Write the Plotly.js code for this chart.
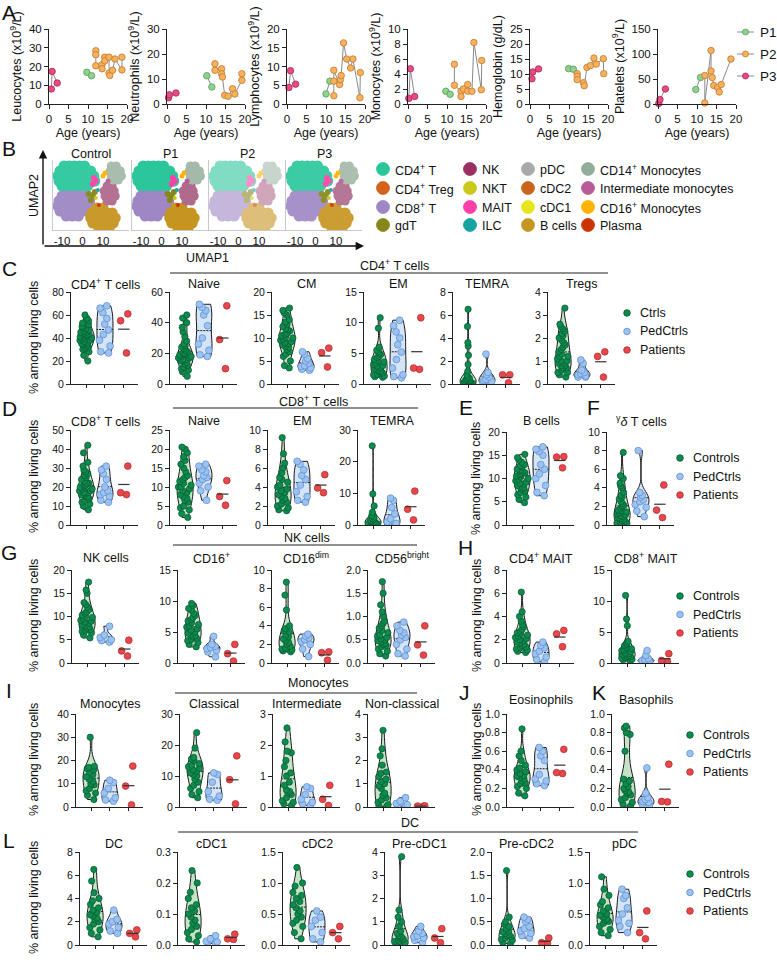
<!DOCTYPE html>
<html><head><meta charset="utf-8">
<script src="https://cdn.plot.ly/plotly-3.0.1.min.js"></script>
<style>body{margin:0;background:#fff}#chart{width:777px;height:962px}</style>
</head><body><div id="chart"></div><script>
// ================= DATA =================
// Panel A (age in years, value)
const leucP1Age=[9.7,10.9], leucP1=[16.9,15.1];
const leucP2Age=[12,12,12,13.6,13.6,14.3,14.3,15.4,15.4,15.6,16.3,16.9,18.7,18.7], leucP2=[28.4,26.3,20.4,21,18.8,25,23,25,16.5,15.2,18,24,18.2,25];
const leucP3Age=[0.6,0.8,2.1], leucP3=[8,17.4,11.2];
const neutP1Age=[10.2,11.5], neutP1=[11.3,6.8];
const neutP2Age=[12.3,12.3,14,14,14.2,14.8,15.7,16.8,17.4,19.2,19.2], neutP2=[16.1,13.5,14.1,12.1,10.8,3.5,3.1,6.1,4,9.5,12.1];
const neutP3Age=[0.4,0.6,2.3], neutP3=[2.5,3.7,4.4];
const lymP1Age=[10,11], lymP1=[2.7,6.1];
const lymP2Age=[12,12,12,13.5,13.7,13.9,14.5,15.3,16.3,16.9,18.7,18.8], lymP2=[2.2,6.1,9,5.2,6.5,7.6,16.3,12,9.6,12,1.7,8.4];
const lymP3Age=[0.5,0.9,2.2], lymP3=[4.4,8.9,5.3];
const monoP1Age=[9.7,10.8], monoP1=[1.7,1.3];
const monoP2Age=[11.9,11.9,13.6,13.6,14.2,15.3,15.3,16.4,16.9,18.8,18.9], monoP2=[5.3,2.5,1.7,1.0,2.0,2.6,1.7,1.7,8.2,1.9,5.8];
const monoP3Age=[0.2,0.6,1.7], monoP3=[0.75,4.7,1.0];
const hbP1Age=[9.9,11.1], hbP1=[11.8,11.6];
const hbP2Age=[12.1,12.1,12.1,13.7,13.9,14.6,15.5,16.4,17,18.8,18.9], hbP2=[10.1,9.2,8.1,7.1,6.1,12.2,12.8,15.3,13.3,15.1,10.1];
const hbP3Age=[0.5,0.7,2.2], hbP3=[8.4,10.7,11.7];
const pltP1Age=[9.7,10.9], pltP1=[29,53];
const pltP2Age=[12,12,13.6,13.6,13.9,14.3,15.3,15.7,16.2,18.7], pltP2=[57,2,107,66,53,37,33,24,39,90];
const pltP3Age=[0.2,0.5,1.9], pltP3=[1,9,30];
const patientNames=['P1','P2','P3'];

// Panel B UMAP cluster coordinates (UMAP units)
const umapCD4T_x=[-9,-6.5,-4,-1.5,1,-11,-8.5,-6,-3.5,-1,1.5,4,-12,-9.5,-7,-4.5,-2,0.5,3,5.5,-11.5,-9,-6.5,-4,-1.5,1,3.5,6,-10,-7.5,-5,-2.5,0,2.5,-8,-5,-2];
const umapCD4T_y=[15,15,15,15,15,12.5,12.5,12.5,12.5,12.5,12.5,12.5,10,10,10,10,10,10,10,10,7.5,7.5,7.5,7.5,7.5,7.5,7.5,7.5,5,5,5,5,5,5,3,3,3];
const umapCD8T_x=[-10,-7.5,-5,-2.5,0,2.5,-11.5,-9,-6.5,-4,-1.5,1,3.5,-12,-9.5,-7,-4.5,-2,0.5,3,-11,-8.5,-6,-3.5,-1,1.5,-8,-5,-2];
const umapCD8T_y=[0,0,0,0,0,0,-2.5,-2.5,-2.5,-2.5,-2.5,-2.5,-2.5,-5,-5,-5,-5,-5,-5,-5,-7.5,-7.5,-7.5,-7.5,-7.5,-7.5,-10,-10,-10];
const umapB_x=[7,10,4.5,7,9.5,12,14.5,4,6.5,9,11.5,14,16,5,7.5,10,12.5,15,8,10.5,13];
const umapB_y=[-6,-6,-8.5,-8.5,-8.5,-8.5,-8.5,-11,-11,-11,-11,-11,-11,-13.5,-13.5,-13.5,-13.5,-13.5,-16,-16,-16];
const umapNK_x=[12,14.5,10.5,13,15.5,11,13.5,16,12,14.5];
const umapNK_y=[5,5,2.5,2.5,2.5,0,0,0,-2.5,-2.5];
const umapMono14_x=[14,16.5,13.5,16,18.5,14,16.5,19,15,17.5];
const umapMono14_y=[15,15,12.5,12.5,12.5,10,10,10,8,8];
const umapMAIT_x=[5,6.5,5.5], umapMAIT_y=[6,7.5,9];
const umapGdT_x=[3,5,4,6], umapGdT_y=[1,0,-2,2];
const umapMono16_x=[10,11], umapMono16_y=[10,11.5];
const umapInterMono_x=[12.5], umapInterMono_y=[7.5];
const umapPlasma_x=[8], umapPlasma_y=[-4.5];
const umapNKT_x=[6.5], umapNKT_y=[-1];
const umapILC_x=[7.5], umapILC_y=[3];
const umapPanels=['Control','P1','P2','P3'];
const umapTicks=[-10,0,10];
const umapTickText=['-10','0','10'];
const umapLegendCol1=['CD4<sup>+</sup> T','CD4<sup>+</sup> Treg','CD8<sup>+</sup> T','gdT'];
const umapLegendCol2=['NK','NKT','MAIT','ILC'];
const umapLegendCol3=['pDC','cDC2','cDC1','B cells'];
const umapLegendCol4=['CD14<sup>+</sup> Monocytes','Intermediate monocytes','CD16<sup>+</sup> Monocytes','Plasma'];

// Violin data: controls, pediatric controls, patients (% among living cells)
const cd4T_ctrl=[60,57,55,53,52,50,49,48,47,46,45,45,44,43,43,42,42,41,40,40,39,38,38,37,36,35,35,34,33,32,31,30,28,25,20];
const cd4T_ped=[68,66,62,57,52,47,43,38,33,28,27];
const cd4T_pat=[61,55,27];
const cd4Naive_ctrl=[45,43,40,37,34,31,28,26,25,24,23,22,21,20,20,19,19,18,18,17,17,16,16,15,15,14,13,12,11,10,9,8,5];
const cd4Naive_ped=[52,50,48,45,38,30,26,22,19,18];
const cd4Naive_pat=[51,29,10];
const cd4CM_ctrl=[16.5,16,15.5,15,14,13.5,13,12.5,12,11.8,11.5,11,10.8,10.5,10.2,10,9.8,9.5,9.2,9,8.8,8.5,8.2,8,7.5,7,6.5,6,5,4,3.5];
const cd4CM_ped=[7,6.5,5.5,5,4.5,4,3.8,3.5,3,3.2];
const cd4CM_pat=[7.8,6.8,3.7];
const cd4EM_ctrl=[10.8,9.1,6,5.5,5.2,5,4.8,4.5,4.3,4,3.8,3.6,3.4,3.2,3,2.9,2.7,2.5,2.3,2.1,2,1.8,1.6,1.5,1.3,1.2,1.1];
const cd4EM_ped=[10.4,9.5,8.5,7.5,6.4,5.2,4,2.6,1.5,1.2,1];
const cd4EM_pat=[10.8,2.6,2.4];
const cd4TEMRA_ctrl=[6.5,5,3.6,3.3,2.5,1.7,1.1,0.8,0.6,0.5,0.4,0.35,0.3,0.3,0.25,0.2,0.2,0.15,0.15,0.1,0.1,0.1,0.05,0.05,0.05];
const cd4TEMRA_ped=[2.6,1,0.8,0.6,0.4,0.3,0.2,0.1,0.1];
const cd4TEMRA_pat=[0.8,0.8,0.1];
const treg_ctrl=[3.3,2.6,2.5,2.4,2.3,2.2,2.1,2,1.9,1.8,1.7,1.6,1.5,1.4,1.3,1.2,1.2,1.1,1,1,0.9,0.9,0.8,0.8,0.7,0.7,0.6,0.5,0.5,0.4,0.3];
const treg_ped=[1.05,0.9,0.6,0.5,0.45,0.4,0.35,0.3,0.3];
const treg_pat=[1.4,1.2,0.3];
const cd8T_ctrl=[42,38,33,31,29,28,27,26,25,24,23,22,22,21,21,20,20,19,19,18,18,17,17,16,16,15,15,14,13,12,11,10,8];
const cd8T_ped=[31,29,27,24,20,18,17,16,15,13,12];
const cd8T_pat=[31,17,16];
const cd8Naive_ctrl=[20.5,20,19,18,17,16,15,14,13,12.5,12,11.5,11,10.5,10,10,9.5,9,8.5,8,7.5,7,6.5,6,5,4.5,4,3,2];
const cd8Naive_ped=[16,15.5,14.5,14,13,12.5,12,11,10,9,6.5];
const cd8Naive_pat=[11.7,7.5,5.2];
const cd8EM_ctrl=[9.2,7.5,6.5,6,5.5,5,4.8,4.5,4.2,4,3.8,3.6,3.4,3.2,3,2.8,2.6,2.4,2.2,2,1.8,1.6,1.5];
const cd8EM_ped=[6.7,6.4,5.8,5.2,4.8,4.2,3.5,3,2.6,2.4];
const cd8EM_pat=[5.3,3.9,3.4];
const cd8TEMRA_ctrl=[25,9.8,6,4,3,2.5,2,1.8,1.5,1.2,1,0.8,0.6,0.5,0.4,0.3,0.2,0.1];
const cd8TEMRA_ped=[8.5,7.8,5.5,3.5,2,1,0.5,0.3,0.1];
const cd8TEMRA_pat=[10.7,5,1.6];
const bcell_ctrl=[15.2,14.5,14,13.5,13,12.8,12.5,12,11.8,11.5,11.2,11,10.8,10.5,10.3,10,9.8,9.5,9.2,9,8.8,8.5,8.2,8,7.7,7.3,7,6.5,6,5.5,4.8];
const bcell_ped=[16.8,16.3,15.8,15,13,12,11,10,8.5,7,6.3];
const bcell_pat=[14.7,14.6,12.3];
const gd_ctrl=[7.8,5.3,5,4.5,4.2,4,3.5,3.2,3,2.8,2.5,2.3,2.1,2,1.8,1.6,1.5,1.4,1.3,1.2,1.1,1,0.9,0.8,0.7,0.6,0.5,0.4,0.3,0.2,0.2,0.1,0.1];
const gd_ped=[8,3.5,3.2,3,2.7,2.5,2.2,1.9,1.5,0.9];
const gd_pat=[4.3,1.6,0.8];
const nk_ctrl=[17.4,15.7,15,13,12.5,12,11.5,11,10.7,10.3,10,9.8,9.5,9.2,9,8.8,8.5,8.2,8,7.8,7.5,7.2,7,6.8,6.5,6,5.4];
const nk_ped=[7.9,6,5.5,5,4.8,4.5];
const nk_pat=[4.9,2.6,1.5];
const cd16p_ctrl=[9.6,9.3,8.8,8.5,8,7.7,7.3,7,6.8,6.5,6.2,6,5.8,5.5,5.3,5,4.8,4.6,4.4,4.2,4,3.8,3.6,3.3,3,2.6];
const cd16p_ped=[4.3,3,2.7,2.5,2.3,2,1.8,1];
const cd16p_pat=[3,1.5,0.3];
const cd16dim_ctrl=[8.7,7.3,5.7,4,3.7,3.5,3.3,3,2.8,2.6,2.4,2.2,2,1.8,1.6,1.5,1.4,1.3,1.2];
const cd16dim_ped=[3.1,2.9,2.7,2.5,2.3,2,1.5,0.7];
const cd16dim_pat=[1.2,1.1,0.3];
const cd56br_ctrl=[1.75,1.5,1.25,1.1,1,0.9,0.85,0.8,0.75,0.7,0.65,0.6,0.58,0.55,0.52,0.5,0.48,0.45,0.42,0.4,0.38,0.35,0.3,0.25,0.2,0.15];
const cd56br_ped=[0.88,0.8,0.7,0.65,0.6,0.55,0.5,0.4,0.3,0.2,0.15];
const cd56br_pat=[0.8,0.39,0.17];
const cd4mait_ctrl=[6.1,4.4,4,3.6,3.3,3.1,2.9,2.7,2.6,2.5,2.4,2.3,2.2,2.1,2,1.9,1.8,1.7,1.6,1.5,1.4,1.3,1.2,1.1,1,0.9];
const cd4mait_ped=[1.8,1.5,1.3,1,0.8,0.5,0.3,0.1];
const cd4mait_pat=[2.8,2.5,1.4];
const cd8mait_ctrl=[10.9,7.1,6,3.5,3.2,3,2.8,2.5,2.3,2.1,2,1.8,1.6,1.5,1.4,1.3,1.2,1.1,1,0.9,0.8,0.6,0.5,0.3];
const cd8mait_ped=[2,1.2,0.7,0.5,0.4,0.3,0.2,0.1];
const cd8mait_pat=[1.5,0.4,0.2];
const mono_ctrl=[30,17.5,17,16.5,16,15,14,13,12,11,10,9.5,8,7,6,5,3.2];
const mono_ped=[11.5,10.5,8,6,4,3,2.5];
const mono_pat=[17.6,9,0.9];
const class_ctrl=[24,19,16,15.5,15,14,13.5,13,12.5,12,11.5,11,10.5,10,9,8,7,6,5,4,3];
const class_ped=[11,10.5,8,5,3.5,2.5,2.2];
const class_pat=[16.5,8.8,1];
const inter_ctrl=[2.55,2.1,1.8,1.75,1.5,1.3,1.1,1,0.8,0.7,0.55,0.5,0.45,0.4,0.3,0.2,0.15,0.1,0.05];
const inter_ped=[0.65,0.6,0.4,0.25,0.15,0.1,0.05];
const inter_pat=[0.7,0.25,0.05];
const nonclass_ctrl=[3.3,2.5,2.2,1.8,1.5,1.45,1.3,1.2,1.1,1,0.9,0.8,0.6,0.5,0.4,0.3,0.2,0.1,0.05,0.03];
const nonclass_ped=[0.4,0.25,0.15,0.1,0.05,0.03];
const nonclass_pat=[0.045,0.04,0.035];
const eos_ctrl=[0.84,0.6,0.55,0.5,0.45,0.42,0.4,0.38,0.36,0.34,0.33,0.32,0.3,0.28,0.26,0.25,0.22,0.2,0.15,0.12];
const eos_ped=[0.64,0.6,0.55,0.5,0.35,0.3,0.28,0.25,0.23];
const eos_pat=[0.62,0.37,0.36];
const baso_ctrl=[0.87,0.85,0.8,0.78,0.6,0.3,0.28,0.25,0.22,0.2,0.18,0.16,0.15,0.13,0.1,0.08,0.05,0.03,0.01];
const baso_ped=[0.42,0.15,0.1,0.08,0.06,0.05,0.03,0.02];
const baso_pat=[0.46,0.06,0.055];
const dc_ctrl=[6.5,5.5,4.5,4,3.8,3.5,3.2,3,2.8,2.6,2.5,2.3,2.2,2,1.8,1.5,1.3,1,0.7];
const dc_ped=[3,2.2,2,1.8,1.5,1.2,1];
const dc_pat=[1.3,1,0.7];
const cdc1_ctrl=[0.24,0.2,0.17,0.15,0.13,0.12,0.11,0.1,0.09,0.08,0.07,0.06,0.05,0.04,0.03,0.02,0.01];
const cdc1_ped=[0.03,0.02,0.012,0.01,0.008,0.005];
const cdc1_pat=[0.035,0.02,0.018];
const cdc2_ctrl=[1.25,1,0.95,0.85,0.8,0.75,0.7,0.65,0.6,0.55,0.5,0.45,0.4,0.35,0.3,0.2,0.1];
const cdc2_ped=[0.55,0.45,0.4,0.3,0.2,0.1,0.05];
const cdc2_pat=[0.3,0.2,0.1];
const precdc1_ctrl=[3.8,1.5,1.2,1,0.8,0.6,0.5,0.4,0.35,0.3,0.25,0.2,0.15,0.1,0.05,0.03];
const precdc1_ped=[0.8,0.6,0.5,0.4,0.35,0.3,0.2,0.1];
const precdc1_pat=[0.7,0.3,0.1];
const precdc2_ctrl=[1.6,0.6,0.5,0.45,0.4,0.35,0.3,0.28,0.25,0.22,0.2,0.18,0.15,0.12,0.1,0.05,0.03];
const precdc2_ped=[0.6,0.55,0.5,0.4,0.35,0.3,0.25,0.2,0.15];
const precdc2_pat=[0.15,0.05,0.04];
const pdc_ctrl=[1.1,0.9,0.8,0.7,0.65,0.6,0.55,0.5,0.48,0.45,0.42,0.4,0.38,0.35,0.3,0.25,0.2,0.15];
const pdc_ped=[0.9,0.8,0.75,0.6,0.5,0.4,0.35,0.3,0.2];
const pdc_pat=[0.55,0.2,0.1];
const groupLabelsShort=['Ctrls','PedCtrls','Patients'];
const groupLabels=['Controls','PedCtrls','Patients'];

// ================= STYLE / LAYOUT =================
const W=777,H=962;
const FONT='Liberation Sans, Arial, Helvetica, sans-serif';
const X=p=>p/W, Y=p=>1-p/H;
const G='#0e8a4e', GD='#075a31', GF='#c4e4c6';
const B='#9cc2ef', BD='#5a8bd0', BF='#d5e5f8';
const R='#e6474b', RD='#b02a2e';
const PCOL=['#8fd18f','#f6b15e','#ea4a83'], PEDGE=['#5a9a5a','#c07a30','#a82a55'];
const layout={width:W,height:H,margin:{l:0,r:0,t:0,b:0},paper_bgcolor:'#fff',plot_bgcolor:'rgba(0,0,0,0)',
  showlegend:false,violinmode:'overlay',font:{family:FONT,size:11,color:'#111'},annotations:[],shapes:[]};
const traces=[];
let axN=0;
function addAxes(x0,w,yt,yb,xo,yo){
  axN++; const s=axN===1?'':String(axN);
  layout['xaxis'+s]=Object.assign({domain:[X(x0),X(x0+w)],anchor:'y'+s,fixedrange:true,showgrid:false,zeroline:false},xo);
  layout['yaxis'+s]=Object.assign({domain:[Y(yb),Y(yt)],anchor:'x'+s,fixedrange:true,showgrid:false,zeroline:false},yo);
  return {x:'x'+s,y:'y'+s};
}
function txt(x,y,text,size,opts){layout.annotations.push(Object.assign({xref:'paper',yref:'paper',x:X(x),y:Y(y),text:text,showarrow:false,
  font:{size:size||12,family:FONT,color:'#111'},xanchor:'center',yanchor:'middle'},opts||{}));}
function hline(x0,x1,y,w,c){layout.shapes.push({type:'line',xref:'paper',yref:'paper',x0:X(x0),x1:X(x1),y0:Y(y),y1:Y(y),line:{color:c||'#222',width:w||1}});}
function dot(cx,cy,r,fill,stroke){layout.shapes.push({type:'circle',xref:'paper',yref:'paper',x0:X(cx-r),x1:X(cx+r),y0:Y(cy+r),y1:Y(cy-r),fillcolor:fill,line:{color:stroke||fill,width:0.8}});}
const mean=a=>a.reduce((s,v)=>s+v,0)/a.length;
function lighten(hex,t){const n=parseInt(hex.slice(1),16);const r=n>>16,g=(n>>8)&255,b=n&255;
  const f=c=>Math.round(c+(255-c)*t);return 'rgb('+f(r)+','+f(g)+','+f(b)+')';}

// ---------- Panel A ----------
txt(9,13,'A',21);
const aSpecs=[
 {x0:49,title:'Leucocytes (x10<sup>9</sup>/L)',ymax:40,dt:10,d:[[leucP1Age,leucP1],[leucP2Age,leucP2],[leucP3Age,leucP3]]},
 {x0:167,title:'Neutrophils (x10<sup>9</sup>/L)',ymax:30,dt:10,d:[[neutP1Age,neutP1],[neutP2Age,neutP2],[neutP3Age,neutP3]]},
 {x0:287,title:'Lymphocytes (x10<sup>9</sup>/L)',ymax:20,dt:5,d:[[lymP1Age,lymP1],[lymP2Age,lymP2],[lymP3Age,lymP3]]},
 {x0:408,title:'Monocytes (x10<sup>9</sup>/L)',ymax:10,dt:2,d:[[monoP1Age,monoP1],[monoP2Age,monoP2],[monoP3Age,monoP3]]},
 {x0:530,title:'Hemoglobin (g/dL)',ymax:25,dt:5,d:[[hbP1Age,hbP1],[hbP2Age,hbP2],[hbP3Age,hbP3]]},
 {x0:658,title:'Platelets (x10<sup>9</sup>/L)',ymax:150,dt:50,d:[[pltP1Age,pltP1],[pltP2Age,pltP2],[pltP3Age,pltP3]]}
];
const axLine={showline:true,linecolor:'#222',linewidth:1,ticks:'outside',ticklen:4,tickwidth:1,tickcolor:'#222'};
aSpecs.forEach(sp=>{
  const a=addAxes(sp.x0,78,29,104,Object.assign({},axLine,{range:[0,20],dtick:5,tickfont:{size:11.5},title:{text:'Age (years)',font:{size:12.5},standoff:4}}),
    Object.assign({},axLine,{range:[0,sp.ymax],dtick:sp.dt,tickfont:{size:11.5},title:{text:sp.title,font:{size:12.5},standoff:4}}));
  sp.d.forEach((pd,i)=>traces.push({type:'scatter',mode:'lines+markers',x:pd[0],y:pd[1],xaxis:a.x,yaxis:a.y,cliponaxis:false,
    line:{color:'#8a8a8a',width:1},marker:{size:6.5,color:PCOL[i],line:{color:PEDGE[i],width:0.8}},name:patientNames[i],hoverinfo:'x+y'}));
});
patientNames.forEach((n,i)=>{const y=32+i*22; hline(737,754,y,1,'#8a8a8a'); dot(745.5,y,3,PCOL[i],PEDGE[i]); txt(758,y,n,13.5,{xanchor:'left'});});

// ---------- Panel B ----------
txt(9,148,'B',21);
const umapCl=[
 [umapCD4T_x,umapCD4T_y,'#2bc79b',11],[umapCD8T_x,umapCD8T_y,'#9e87c4',11],[umapB_x,umapB_y,'#c69520',11],
 [umapNK_x,umapNK_y,'#b06a8c',9],[umapMono14_x,umapMono14_y,'#a4b9aa',9],[umapMAIT_x,umapMAIT_y,'#ff3fa8',6],
 [umapGdT_x,umapGdT_y,'#86861a',6],[umapMono16_x,umapMono16_y,'#ffb300',5],[umapInterMono_x,umapInterMono_y,'#b85c95',5],
 [umapPlasma_x,umapPlasma_y,'#cc3300',4],[umapNKT_x,umapNKT_y,'#c9c91a',4],[umapILC_x,umapILC_y,'#17a3a0',4]];
const umapLight=[0.05,0,0.4,0.08];
const umapX0=[53,132,209,286];
umapPanels.forEach((nm,pi)=>{
  const a=addAxes(umapX0[pi],76,160,230,{range:[-14.4,22.7],showline:true,linecolor:'#c8c8c8',linewidth:1,ticks:'',tickvals:umapTicks,ticktext:umapTickText,tickfont:{size:11.5}},
    {range:[-17,18],showline:true,linecolor:'#c8c8c8',linewidth:1,showticklabels:false,ticks:''});
  umapCl.forEach(c=>traces.push({type:'scatter',mode:'markers',x:c[0],y:c[1],xaxis:a.x,yaxis:a.y,hoverinfo:'skip',
    marker:{size:c[3],color:lighten(c[2],umapLight[pi]),opacity:1,line:{width:0}}}));
  txt(umapX0[pi]+38,154,nm,12.5);
});
layout.annotations.push({xref:'paper',yref:'paper',x:X(43),y:Y(150),ax:0,ay:96,text:'',showarrow:true,arrowhead:2,arrowsize:1.2,arrowwidth:1.4,arrowcolor:'#111'});
layout.annotations.push({xref:'paper',yref:'paper',x:X(364),y:Y(246),ax:-321,ay:0,text:'',showarrow:true,arrowhead:2,arrowsize:1.2,arrowwidth:1.4,arrowcolor:'#111'});
txt(34,196,'UMAP2',12.5,{textangle:-90});
txt(207,258,'UMAP1',12.5);
const legCols=[[383,umapLegendCol1,['#2bc79b','#d4621a','#9e87c4','#86861a']],[470,umapLegendCol2,['#9b2f63','#c9c91a','#ff3fa8','#17a3a0']],
 [528,umapLegendCol3,['#a9a9a9','#c8641e','#e6e61e','#c69520']],[588,umapLegendCol4,['#92ad9a','#b85c95','#ffb300','#cc3300']]];
const legRows=[169,188,207,225];
legCols.forEach(col=>col[1].forEach((lab,i)=>{dot(col[0],legRows[i],6.5,col[2][i]); txt(col[0]+10,legRows[i]+1,lab,12.5,{xanchor:'left'});}));

// ---------- Violin helper ----------
const xv=Object.assign({},axLine,{range:[-0.8,2.75],tickvals:[0,1,2],showticklabels:false,ticklen:3});
function vplot(x0,yt,yb,ty,ymax,dtick,fmt,title,ctrl,ped,pat){
  const a=addAxes(x0,67,yt,yb,Object.assign({},xv),Object.assign({},axLine,{range:[0,ymax],dtick:dtick,tickformat:fmt,tickfont:{size:10.5}}));
  const base={type:'violin',xaxis:a.x,yaxis:a.y,spanmode:'hard',points:'all',pointpos:0,box:{visible:false},hoverinfo:'y',scalemode:'width'};
  traces.push(Object.assign({},base,{x0:0,y:ctrl,width:0.85,jitter:0.85,fillcolor:GF,line:{color:'#1a1a1a',width:1},
    meanline:{visible:true,color:'#1a1a1a',width:1},marker:{size:6.3,color:G,line:{color:GD,width:0.7}},name:groupLabels[0]}));
  traces.push(Object.assign({},base,{x0:1,y:ped,width:0.85,jitter:0.85,fillcolor:BF,line:{color:'#1a1a1a',width:1},
    meanline:{visible:true,color:'#1a1a1a',width:1},marker:{size:6.8,color:B,line:{color:BD,width:0.7}},name:groupLabels[1]}));
  traces.push(Object.assign({},base,{x0:2,y:pat,width:0.6,jitter:0.9,fillcolor:'rgba(0,0,0,0)',line:{color:'rgba(0,0,0,0)',width:0},
    meanline:{visible:false},marker:{size:6.8,color:R,line:{color:RD,width:0.7}},name:groupLabels[2]}));
  const m=mean(pat);
  traces.push({type:'scatter',mode:'lines',x:[1.7,2.3],y:[m,m],xaxis:a.x,yaxis:a.y,line:{color:'#333',width:1.2},hoverinfo:'skip',cliponaxis:false});
  txt(x0+34,ty,title,12.5);
}
function vlegend(x,y,labels){labels.forEach((l,i)=>{const c=[[G,GD],[B,BD],[R,RD]][i]; dot(x,y+i*18.5,3.3,c[0],c[1]); txt(x+11,y+i*18.5,l,12.5,{xanchor:'left'});});}
function ytitle(x,yc){txt(x,yc,'% among living cells',12.5,{textangle:-90});}

// ---------- Row C ----------
txt(9,268,'C',21);
hline(170,608,273,1.2); txt(395,265,'CD4<sup>+</sup> T cells',12.5);
vplot(71,292,384,284,80,20,'','CD4<sup>+</sup> T cells',cd4T_ctrl,cd4T_ped,cd4T_pat);
vplot(170,292,384,284,60,20,'','Naive',cd4Naive_ctrl,cd4Naive_ped,cd4Naive_pat);
vplot(272,292,384,284,20,5,'','CM',cd4CM_ctrl,cd4CM_ped,cd4CM_pat);
vplot(364,292,384,284,15,5,'','EM',cd4EM_ctrl,cd4EM_ped,cd4EM_pat);
vplot(453,292,384,284,8,2,'','TEMRA',cd4TEMRA_ctrl,cd4TEMRA_ped,cd4TEMRA_pat);
vplot(548,292,384,284,4,1,'','Tregs',treg_ctrl,treg_ped,treg_pat);
ytitle(34,338); vlegend(627,313,groupLabelsShort);

// ---------- Row D, E, F ----------
txt(9,408,'D',21);
hline(173,418,408,1.2); txt(313,401,'CD8<sup>+</sup> T cells',12.5);
vplot(71,430,525,421,50,10,'','CD8<sup>+</sup> T cells',cd8T_ctrl,cd8T_ped,cd8T_pat);
vplot(170,430,525,421,25,5,'','Naive',cd8Naive_ctrl,cd8Naive_ped,cd8Naive_pat);
vplot(268,430,525,421,10,2,'','EM',cd8EM_ctrl,cd8EM_ped,cd8EM_pat);
vplot(358,430,525,421,30,10,'','TEMRA',cd8TEMRA_ctrl,cd8TEMRA_ped,cd8TEMRA_pat);
ytitle(34,477);
txt(466,407,'E',21); txt(593,407,'F',21);
vplot(507,432,525,421,20,5,'','B cells',bcell_ctrl,bcell_ped,bcell_pat);
vplot(607,432,525,421,10,2,'','<sup>γ</sup><i>δ</i> T cells',gd_ctrl,gd_ped,gd_pat);
ytitle(476,478); vlegend(680,458,groupLabels);

// ---------- Row G, H ----------
txt(9,552,'G',21);
hline(173,417,545,1.2); txt(307,538,'NK cells',12.5);
vplot(72,570,663,558,20,5,'','NK cells',nk_ctrl,nk_ped,nk_pat);
vplot(178,570,663,558,15,5,'','CD16<sup>+</sup>',cd16p_ctrl,cd16p_ped,cd16p_pat);
vplot(272,570,663,558,10,2,'','CD16<sup>dim</sup>',cd16dim_ctrl,cd16dim_ped,cd16dim_pat);
vplot(368,570,663,558,2,0.5,'.1f','CD56<sup>bright</sup>',cd56br_ctrl,cd56br_ped,cd56br_pat);
ytitle(34,616);
txt(466,547,'H',21);
vplot(507,570,663,558,8,2,'','CD4<sup>+</sup> MAIT',cd4mait_ctrl,cd4mait_ped,cd4mait_pat);
vplot(612,570,663,558,15,5,'','CD8<sup>+</sup> MAIT',cd8mait_ctrl,cd8mait_ped,cd8mait_pat);
ytitle(477,616); vlegend(680,596,groupLabels);

// ---------- Row I, J, K ----------
txt(9,690,'I',21);
hline(175,417,693,1.2); txt(318,683,'Monocytes',12.5);
vplot(76,714,807,704,40,10,'','Monocytes',mono_ctrl,mono_ped,mono_pat);
vplot(180,714,807,704,30,10,'','Classical',class_ctrl,class_ped,class_pat);
vplot(273,714,807,704,3,1,'','Intermediate',inter_ctrl,inter_ped,inter_pat);
vplot(368,714,807,704,4,1,'','Non-classical',nonclass_ctrl,nonclass_ped,nonclass_pat);
ytitle(34,760);
txt(464,692,'J',21); txt(599,692,'K',21);
vplot(507,714,807,700,1,0.2,'.1f','Eosinophils',eos_ctrl,eos_ped,eos_pat);
vplot(612,714,807,700,1,0.2,'.1f','Basophils',baso_ctrl,baso_ped,baso_pat);
ytitle(477,760); vlegend(690,735,groupLabels);

// ---------- Row L ----------
txt(9,840,'L',21);
hline(178,638,832,1.2); txt(410,823,'DC',12.5);
vplot(80,852,945,844,8,2,'','DC',dc_ctrl,dc_ped,dc_pat);
vplot(178,852,945,844,0.3,0.1,'.1f','cDC1',cdc1_ctrl,cdc1_ped,cdc1_pat);
vplot(283,852,945,844,1.5,0.5,'.1f','cDC2',cdc2_ctrl,cdc2_ped,cdc2_pat);
vplot(385,852,945,844,4,1,'','Pre-cDC1',precdc1_ctrl,precdc1_ped,precdc1_pat);
vplot(492,852,945,844,2,0.5,'.1f','Pre-cDC2',precdc2_ctrl,precdc2_ped,precdc2_pat);
vplot(590,852,945,844,1.5,0.5,'.1f','pDC',pdc_ctrl,pdc_ped,pdc_pat);
ytitle(34,898); vlegend(690,874,groupLabels);

Plotly.newPlot('chart',traces,layout,{staticPlot:true,displayModeBar:false}).then(()=>{
  document.querySelectorAll('g.plot').forEach(g=>g.removeAttribute('clip-path'));
});
</script></body></html>
